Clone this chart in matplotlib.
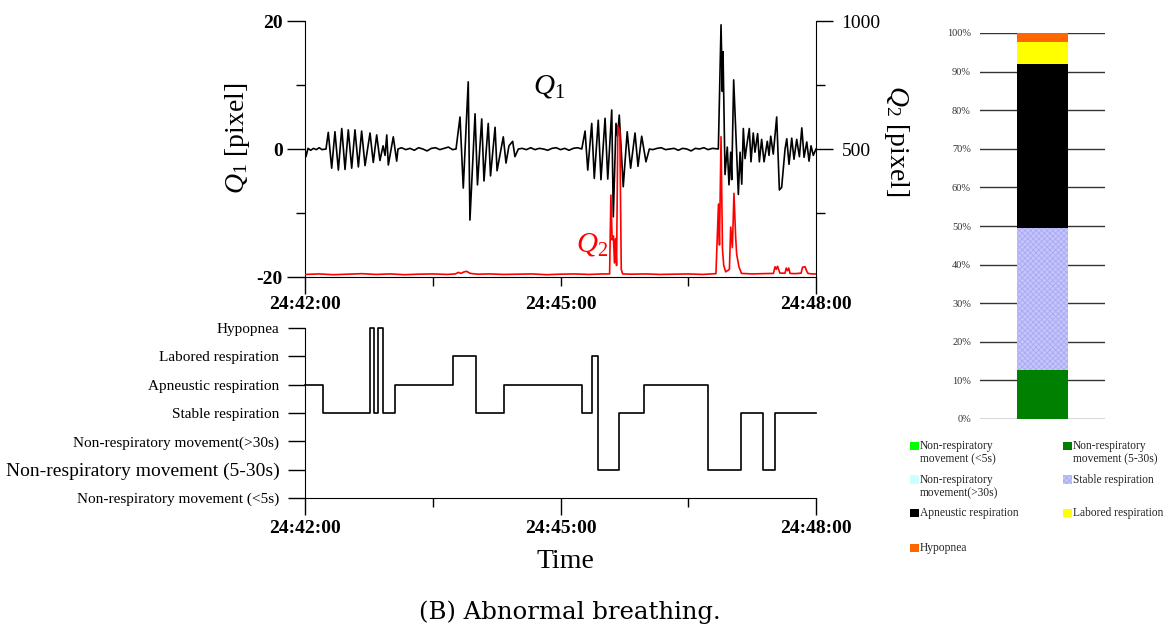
import matplotlib
matplotlib.use('Agg')
import matplotlib.pyplot as plt
from matplotlib.patches import Rectangle
from matplotlib.ticker import FixedLocator, FixedFormatter

plt.rcParams['font.family'] = 'Liberation Serif'
plt.rcParams['mathtext.fontset'] = 'custom'
plt.rcParams['mathtext.it'] = 'Liberation Serif:italic'
plt.rcParams['mathtext.rm'] = 'Liberation Serif'
plt.rcParams['axes.unicode_minus'] = False
plt.rcParams['hatch.linewidth'] = 0.6

# ---- data (time in seconds from 24:42:00) ----
time_ticks = ['24:42:00', '24:45:00', '24:48:00']

# Q1 signal [pixel]
q1_t = [0, 0.7, 2.1, 4, 6, 8, 10, 12, 14.8,
        16.4, 18.8, 21.1, 23.5, 25.9, 28.2, 30.5, 32.9, 35.2, 37.6, 39.9, 42.3,
        45.8, 48.1, 50.5, 52.8, 55.0, 56.4, 57.6, 58.7, 62.2, 64.6, 65.5,
        68, 71, 74, 77, 80, 83, 86, 89, 92, 95, 98, 101, 104, 106.4,
        109.2, 111.5, 115.0, 116.2, 119.8, 121.5, 124.5, 126.1, 129.1, 130.7,
        133.9, 135.3, 139.7, 141.6, 143.7, 146.3, 147.9, 150.3,
        153, 156, 159, 162, 165, 168, 171, 174, 177, 180, 183, 186, 189, 192, 195.0,
        197.3, 199.2, 202.0, 203.8, 206.6, 208.5, 211.4, 213.3, 216.1, 217.2,
        219.1, 220.2, 221.4, 224.2, 227.0, 229.4, 232.5, 234.6, 237.2, 240.2, 242.6,
        245, 248, 251, 254, 257, 260, 263, 266, 269, 272, 275, 278, 281, 284, 287, 291.2,
        293.1, 294.0, 294.5, 295.9, 297.5, 298.7, 299.9, 300.6, 302.0, 305.3,
        306.5, 307.7, 308.8, 310.0, 311.2, 313.0, 314.2, 315.8, 317.0, 318.9,
        320.1, 321.7, 323.4, 325.7, 326.9, 328.1, 329.9, 332.3, 334.2, 335.8,
        338.2, 339.4, 341.0, 342.9, 344.5, 346.4, 348.3, 350.0, 351.6, 353.5,
        355.1, 356.5, 358.1, 360]
q1_v = [0, -1.2, 0.1, -0.2, 0.1, -0.1, 0.2, -0.1, 0,
        2.6, -3.0, 2.7, -3.3, 3.2, -3.2, 3.0, -3.0, 3.0, -2.8, 2.8, -2.6,
        2.5, -2.1, 2.2, -1.8, 0.5, -1.0, 2.2, -2.5, 1.9, -1.9, 0,
        0.2, -0.1, 0.1, -0.2, 0.2, 0, -0.3, 0.1, 0.2, -0.1, 0.1, 0.3, -0.1, 0,
        5.0, -6.1, 10.5, -11.1, 5.5, -5.6, 4.7, -5.0, 4.0, -4.2,
        3.4, -3.4, 1.9, -2.2, 0.5, 1.2, -1.2, 0,
        0.1, -0.1, 0.2, -0.1, 0.1, 0, -0.2, 0.1, 0.2, -0.1, 0.1, -0.2, 0.1, 0.2, 0,
        2.8, -3.3, 4.0, -4.6, 4.5, -4.8, 4.8, -4.7, 6.1, -10.6,
        4.0, 2.0, 5.3, -5.9, 2.7, -3.0, 2.5, -2.7, 2.0, -2.0, 0,
        -0.1, 0.1, 0.2, -0.1, 0, 0.1, -0.2, 0.1, 0, -0.3, 0.1, 0, 0.2, -0.1, 0.1, 0,
        19.4, 9.0, 15.2, -4.0, 0.3, -5.6, -0.5, -4.8, 10.8, -7.1,
        -0.5, -5.5, 3.2, -1.5, 0.5, 3.2, -2.0, 2.5, -0.5, 2.4,
        -2.0, 1.5, -2.0, 1.2, -1.0, 2.0, -0.8, 5.0, -6.4, -6.0,
        0, 1.6, -2.4, 1.7, -1.6, 1.5, -1.2, 3.3, -1.3, 1.1,
        -1.9, 0.5, -1.0, 0]

# Q2 signal [pixel]
q2_t = [0, 10, 20, 30, 40, 50, 60, 70, 80, 90, 100,
        106, 108, 110, 112, 114, 116, 118, 122,
        130, 140, 150, 160, 170, 180, 190, 200, 210,
        214.6, 215.5, 216.4, 217.3, 218.0, 218.7, 219.5, 220.4, 221.8, 222.8, 223.8,
        230, 240, 250, 260, 270, 280,
        289.5, 291.3, 292.0, 293.1, 294.1, 295.0, 296.4, 299.0, 299.9, 301.1,
        302.2, 303.4, 304.1, 305.7, 307.5,
        315, 322, 330,
        331.1, 332.0, 332.9, 334.6,
        338.2, 339.0, 339.9, 340.8, 341.7,
        345,
        349.5, 350.5, 352.3, 353.5, 354.4,
        357, 360]
q2_v = [10, 12, 9, 11, 13, 10, 12, 9, 11, 12, 10,
        12, 18, 14, 20, 22, 15, 13, 11,
        12, 10, 11, 12, 9, 11, 12, 10, 12,
        12, 320, 145, 160, 55, 150, 45, 590, 570, 30, 12,
        11, 12, 10, 11, 12, 10,
        13, 285, 125, 548, 110, 45, 20, 30, 195, 115,
        327, 155, 90, 40, 14,
        12, 13, 14,
        40, 30, 42, 15,
        15, 35, 25, 35, 14,
        13,
        15, 38, 40, 22, 14,
        12, 12]

# classified state (step)
state_names = ['Non-respiratory movement (<5s)', 'Non-respiratory movement (5-30s)',
               'Non-respiratory movement(>30s)', 'Stable respiration',
               'Apneustic respiration', 'Labored respiration', 'Hypopnea']
state_t = [0, 12.5, 45.8, 48.8, 51.6, 55.2, 63.4, 104.1, 120.3, 140.4, 195.4,
           202.0, 206.2, 221.4, 239.0, 284.1, 307.2, 322.9, 331.1, 360]
state_level = [4, 3, 6, 3, 6, 3, 4, 5, 3, 4, 3, 5, 1, 3, 4, 1, 3, 1, 3, 3]

# stacked bar (%)
bar_share = [0, 12.7, 0, 36.8, 42.5, 5.7, 2.3]
bar_colors = ['#00ff00', '#008000', '#ccffff', '#c4c4ff', '#000000', '#ffff00', '#ff6600']
legend_names = ['Non-respiratory\nmovement (<5s)', 'Non-respiratory\nmovement (5-30s)',
                'Non-respiratory\nmovement(>30s)', 'Stable respiration',
                'Apneustic respiration', 'Labored respiration', 'Hypopnea']

W, H = 1167, 632
fig = plt.figure(figsize=(W / 100, H / 100), dpi=100)


def box(l, t, r, b):
    return [l / W, 1 - b / H, (r - l) / W, (b - t) / H]


# ---- top: Q1 / Q2 ----
ax1 = fig.add_axes(box(305, 21, 816, 277))
ax1.plot(q1_t, q1_v, color='black', lw=1.2)
ax1.set_xlim(0, 360)
ax1.set_ylim(-20, 20)
ax2 = ax1.twinx()
ax2.plot(q2_t, q2_v, color='red', lw=1.2)
ax2.set_ylim(0, 1000)
ax1.spines['top'].set_visible(False)
ax1.spines['right'].set_visible(False)
for s in ['top', 'left', 'bottom']:
    ax2.spines[s].set_visible(False)

ax1.yaxis.set_major_locator(FixedLocator([-20, 0, 20]))
ax1.yaxis.set_minor_locator(FixedLocator([-10, 10]))
ax1.tick_params(axis='y', which='major', length=13, width=1, pad=3, labelsize=14)
ax1.tick_params(axis='y', which='minor', length=6.3, width=1)
ax1.xaxis.set_major_locator(FixedLocator([0, 360]))
ax1.xaxis.set_major_formatter(FixedFormatter([time_ticks[0], time_ticks[2]]))
ax1.xaxis.set_minor_locator(FixedLocator([90, 180, 270]))
ax1.xaxis.set_minor_formatter(FixedFormatter(['', time_ticks[1], '']))
ax1.tick_params(axis='x', which='major', length=12, width=1, pad=2, labelsize=14)
ax1.tick_params(axis='x', which='minor', length=6.5, width=1, pad=7.5, labelsize=14)

ax2.yaxis.set_major_locator(FixedLocator([500, 1000]))
ax2.yaxis.set_minor_locator(FixedLocator([250, 750]))
ax2.tick_params(axis='y', which='major', length=12.5, width=1, pad=6, labelsize=14)
ax2.tick_params(axis='y', which='minor', length=6.5, width=1)

ax1.text(172, 9.7, r'$Q_1$', fontsize=21, ha='center', va='center')
ax1.text(202, -15.0, r'$Q_2$', fontsize=21, ha='center', va='center', color='red')
fig.text(238 / W, 1 - 138 / H, r'$Q_1$ [pixel]', rotation=90, fontsize=20,
         ha='center', va='center')
fig.text(897 / W, 1 - 141 / H, r'$Q_2$ [pixel]', rotation=-90, fontsize=20,
         ha='center', va='center')

# ---- bottom: state ----
ax3 = fig.add_axes(box(305, 328, 816, 498))
ax3.step(state_t, state_level, where='post', color='black', lw=1.2, clip_on=False)
ax3.set_xlim(0, 360)
ax3.set_ylim(0, 6)
ax3.spines['top'].set_visible(False)
ax3.spines['right'].set_visible(False)
ax3.set_yticks(range(7))
ax3.set_yticklabels(state_names)
ax3.tick_params(axis='y', length=12, width=1, pad=6.5, labelsize=11)
ax3.get_yticklabels()[1].set_fontsize(14)
ax3.xaxis.set_major_locator(FixedLocator([0, 180, 360]))
ax3.xaxis.set_major_formatter(FixedFormatter(time_ticks))
ax3.xaxis.set_minor_locator(FixedLocator([90, 270]))
ax3.tick_params(axis='x', which='major', length=12.5, width=1, pad=3, labelsize=14)
ax3.tick_params(axis='x', which='minor', length=6.5, width=1)
fig.text(565 / W, 1 - 562 / H, 'Time', fontsize=20, ha='center', va='center')

# time tick labels and left numbers are set in a heavier weight
for lab in (ax1.get_xticklabels(which='both') + ax3.get_xticklabels()
            + ax1.get_yticklabels()):
    lab.set_fontweight('bold')

fig.text(570 / W, 1 - 612 / H, '(B) Abnormal breathing.', fontsize=17.6,
         family='DejaVu Serif', ha='center', va='center')

# ---- right: stacked share ----
ax4 = fig.add_axes(box(980, 33, 1105, 419))
bottom = 0
for share, col in zip(bar_share, bar_colors):
    hatch = 'xxxxxx' if col == '#c4c4ff' else None
    ax4.bar(0.5, share, bottom=bottom, width=0.408, color=col, hatch=hatch,
            edgecolor='#aaaaee' if hatch else col, lw=0, zorder=2)
    bottom += share
ax4.set_xlim(0, 1)
ax4.set_ylim(0, 100)
ax4.set_yticks(range(0, 101, 10))
ax4.set_yticklabels([f'{v}%' for v in range(0, 101, 10)])
ax4.set_xticks([])
ax4.tick_params(axis='y', length=0, pad=6.5, labelsize=7.5, labelcolor='#333333')
ax4.yaxis.grid(True, color='#333333', lw=1)
ax4.set_axisbelow(True)
for s in ax4.spines.values():
    s.set_visible(False)

# legend, laid out as two columns like the original
legend_order = [0, 2, 4, 6, 1, 3, 5]
col_x = [910, 1063]
row_y = [446, 479.5, 513, 548]
for k, idx in enumerate(legend_order):
    c = 0 if k < 4 else 1
    r = k if k < 4 else k - 4
    x0, yc = col_x[c], row_y[r]
    hatch = 'xxxxxx' if bar_colors[idx] == '#c4c4ff' else None
    fig.add_artist(Rectangle((x0 / W, 1 - (yc + 4.2) / H), 8.5 / W, 8.4 / H,
                             transform=fig.transFigure, facecolor=bar_colors[idx],
                             hatch=hatch, edgecolor='#aaaaee' if hatch else bar_colors[idx],
                             lw=0))
    for i, line in enumerate(legend_names[idx].split('\n')):
        fig.text((x0 + 10) / W, 1 - (yc + i * 13.6) / H, line, fontsize=8.3,
                 ha='left', va='center', color='#222222')

fig.savefig('out.png', dpi=100)
